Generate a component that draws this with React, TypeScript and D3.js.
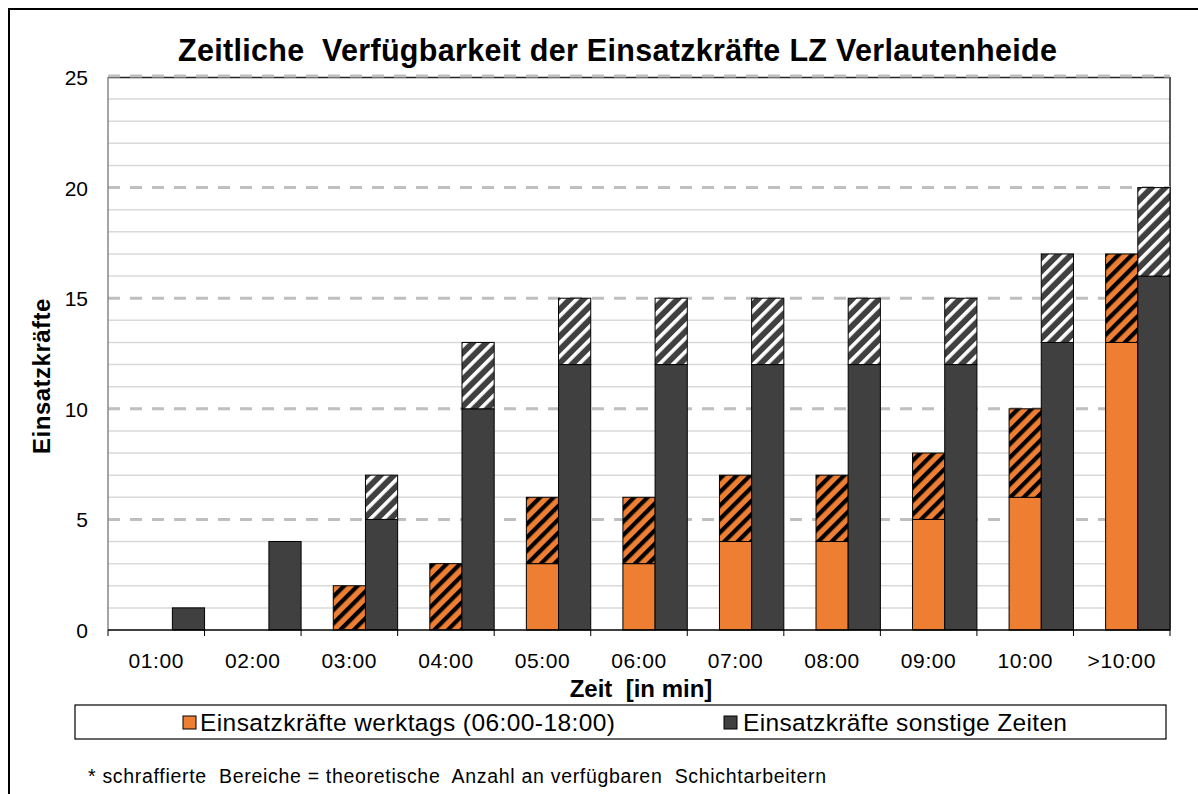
import React from "react";
import * as d3 from "d3";

const categories = ["01:00", "02:00", "03:00", "04:00", "05:00", "06:00", "07:00", "08:00", "09:00", "10:00", ">10:00"];
const werktagsBase = [0, 0, 0, 0, 3, 3, 4, 4, 5, 6, 13];
const werktagsHatched = [0, 0, 2, 3, 3, 3, 3, 3, 3, 4, 4];
const sonstigeBase = [1, 4, 5, 10, 12, 12, 12, 12, 12, 13, 16];
const sonstigeHatched = [0, 0, 2, 3, 3, 3, 3, 3, 3, 4, 4];
const yTicks = [0, 5, 10, 15, 20, 25];

const ORANGE = "#EE7F32";
const DARK = "#404040";
const FONT = "'Liberation Sans', Arial, sans-serif";

export default function App() {
  const W = 1198, H = 794;
  const left = 108, right = 1170, top = 77, bottom = 630;
  const x = d3.scaleBand<string>().domain(categories).range([left, right]).paddingInner(0).paddingOuter(0);
  const y = d3.scaleLinear().domain([0, 25]).range([bottom, top]);
  const bw = x.bandwidth();
  const barW = bw / 3;
  const minor = d3.range(0, 26).filter((v) => v % 5 !== 0);

  const seg = (cx: number, v0: number, v1: number, fill: string, key: string) =>
    v1 > v0 ? (
      <rect key={key} x={cx} y={y(v1)} width={barW} height={y(v0) - y(v1)} fill={fill} stroke="#000" strokeWidth={1} />
    ) : null;

  return (
    <svg width={W} height={H} style={{ position: "absolute", left: 0, top: 0 }} fontFamily={FONT}>
      <defs>
        <pattern id="hatchO" patternUnits="userSpaceOnUse" width="9.5" height="9.5" patternTransform="rotate(45)">
          <rect width="9.5" height="9.5" fill={ORANGE} />
          <rect x="0" width="4.2" height="9.5" fill="#000" />
        </pattern>
        <pattern id="hatchD" patternUnits="userSpaceOnUse" width="9.5" height="9.5" patternTransform="rotate(45)">
          <rect width="9.5" height="9.5" fill={DARK} />
          <rect x="0" width="3.6" height="9.5" fill="#fff" />
        </pattern>
      </defs>
      <rect x={0} y={0} width={W} height={H} fill="#fff" />
      {/* outer frame */}
      <rect x={9} y={9} width={W + 20} height={H + 20} fill="none" stroke="#000" strokeWidth={2} />

      {/* title */}
      <text x={178} y={61} fontSize={30.5} fontWeight="bold" textLength={879} lengthAdjust="spacing" style={{ whiteSpace: "pre" }}>
        Zeitliche  Verfügbarkeit der Einsatzkräfte LZ Verlautenheide
      </text>

      {/* minor grid */}
      {minor.map((v) => (
        <line key={"m" + v} x1={left} x2={right} y1={y(v)} y2={y(v)} stroke="#d9d9d9" strokeWidth={1.5} />
      ))}
      {/* plot border top/right */}
      <line x1={left} x2={right} y1={top + 0.5} y2={top + 0.5} stroke="#222" strokeWidth={1.5} />
      <line x1={right} x2={right} y1={top} y2={bottom} stroke="#222" strokeWidth={1.5} />
      {/* major dashed grid */}
      {yTicks.filter((v) => v > 0).map((v) => (
        <line key={"M" + v} x1={left} x2={right} y1={y(v) - (v === 25 ? 1 : 0)} y2={y(v) - (v === 25 ? 1 : 0)} stroke="#bfbfbf" strokeWidth={3} strokeDasharray="12 10" />
      ))}

      {/* bars */}
      {categories.map((c, i) => {
        const x0 = (x(c) as number) + bw - 2 * barW;
        const x1 = (x(c) as number) + bw - barW;
        return (
          <g key={c}>
            {seg(x0, 0, werktagsBase[i], ORANGE, "ob")}
            {seg(x0, werktagsBase[i], werktagsBase[i] + werktagsHatched[i], "url(#hatchO)", "oh")}
            {seg(x1, 0, sonstigeBase[i], DARK, "db")}
            {seg(x1, sonstigeBase[i], sonstigeBase[i] + sonstigeHatched[i], "url(#hatchD)", "dh")}
          </g>
        );
      })}

      {/* axes */}
      <line x1={left} x2={left} y1={top} y2={bottom} stroke="#868686" strokeWidth={1.5} />
      <line x1={left} x2={right} y1={bottom} y2={bottom} stroke="#000" strokeWidth={1.5} />
      {categories.map((c) => (
        <line key={"t" + c} x1={x(c) as number} x2={x(c) as number} y1={bottom} y2={bottom + 6} stroke="#000" strokeWidth={1} />
      ))}
      <line x1={right} x2={right} y1={bottom} y2={bottom + 6} stroke="#000" strokeWidth={1} />

      {yTicks.map((v) => (
        <text key={"yl" + v} x={88} y={y(v) + 8} textAnchor="end" fontSize={21}>
          {v}
        </text>
      ))}
      {categories.map((c) => (
        <text key={"xl" + c} x={(x(c) as number) + bw / 2} y={668} textAnchor="middle" fontSize={21} letterSpacing={0.6}>
          {c}
        </text>
      ))}

      <text x={641} y={697} textAnchor="middle" fontSize={24} fontWeight="bold" style={{ whiteSpace: "pre" }}>
        Zeit  [in min]
      </text>
      <text transform="translate(50,376) rotate(-90)" textAnchor="middle" fontSize={24} fontWeight="bold" letterSpacing={0.5}>
        Einsatzkräfte
      </text>

      {/* legend */}
      <rect x={75} y={705} width={1091} height={34} fill="#fff" stroke="#000" strokeWidth={1.2} />
      <rect x={183} y={716} width={13} height={13} fill={ORANGE} stroke="#000" strokeWidth={1} />
      <text x={200} y={731} fontSize={24.5} textLength={415} lengthAdjust="spacing">Einsatzkräfte werktags (06:00-18:00)</text>
      <rect x={724} y={716} width={13} height={13} fill={DARK} stroke="#000" strokeWidth={1} />
      <text x={743} y={731} fontSize={24.5} textLength={324} lengthAdjust="spacing">Einsatzkräfte sonstige Zeiten</text>

      <text x={88} y={783} fontSize={19.5} textLength={738} lengthAdjust="spacing" style={{ whiteSpace: "pre" }}>
        * schraffierte  Bereiche = theoretische  Anzahl an verfügbaren  Schichtarbeitern
      </text>
    </svg>
  );
}
